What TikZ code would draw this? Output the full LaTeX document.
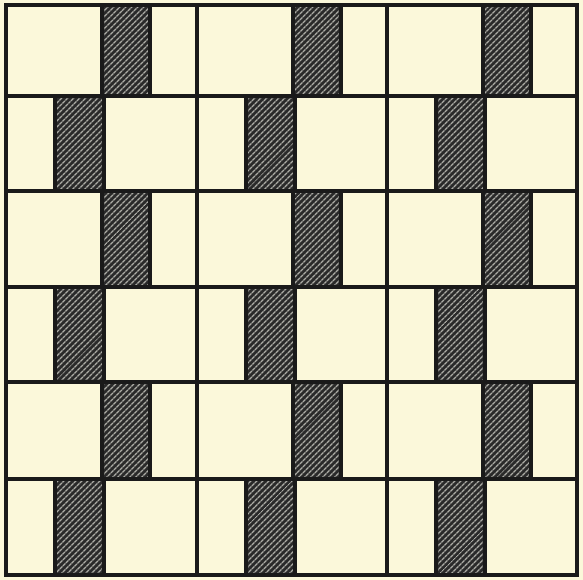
\documentclass[tikz,border=0pt]{standalone}
\usetikzlibrary{patterns.meta}
\definecolor{cream}{HTML}{FBF8DA}
\definecolor{ink}{HTML}{1A1A1A}
\definecolor{hatchdark}{HTML}{2A2A2A}
\definecolor{hatchlight}{HTML}{ABABA4}
\tikzset{
  gridline/.style={draw=ink, line width=4pt, line cap=rect},
  hatchbox/.style={fill=hatchdark, postaction={pattern={Lines[angle=45,distance=4pt,line width=1.4pt]}, pattern color=hatchlight}},
}
\begin{document}
\begin{tikzpicture}[x=1pt,y=-1pt]
\fill[cream] (0,0) rectangle (583,580);
\useasboundingbox (0,0) rectangle (583,580);
\def\ys{{5,96,191,287,382,479,575}}
\def\xs{{6,197,387,577}}
% hatched boxes
\foreach \r in {0,...,5}{
  \pgfmathsetmacro{\ytop}{\ys[\r]}
  \pgfmathsetmacro{\ybot}{\ys[\r+1]}
  \pgfmathsetmacro{\offa}{mod(\r,2)==0 ? 96 : 48.5}
  \pgfmathsetmacro{\offb}{mod(\r,2)==0 ? 144 : 97.5}
  \foreach \c in {0,1,2}{
    \pgfmathsetmacro{\xa}{\xs[\c]+\offa}
    \pgfmathsetmacro{\xb}{\xs[\c]+\offb}
    \path[hatchbox] (\xa,\ytop) rectangle (\xb,\ybot);
    \draw[gridline] (\xa,\ytop) -- (\xa,\ybot);
    \draw[gridline] (\xb,\ytop) -- (\xb,\ybot);
  }
}
% horizontal lines
\foreach \r in {0,...,6}{
  \pgfmathsetmacro{\yy}{\ys[\r]}
  \draw[gridline] (6,\yy) -- (577,\yy);
}
% major vertical lines
\foreach \c in {0,...,3}{
  \pgfmathsetmacro{\xx}{\xs[\c]}
  \draw[gridline] (\xx,5) -- (\xx,575);
}
\end{tikzpicture}
\end{document}
